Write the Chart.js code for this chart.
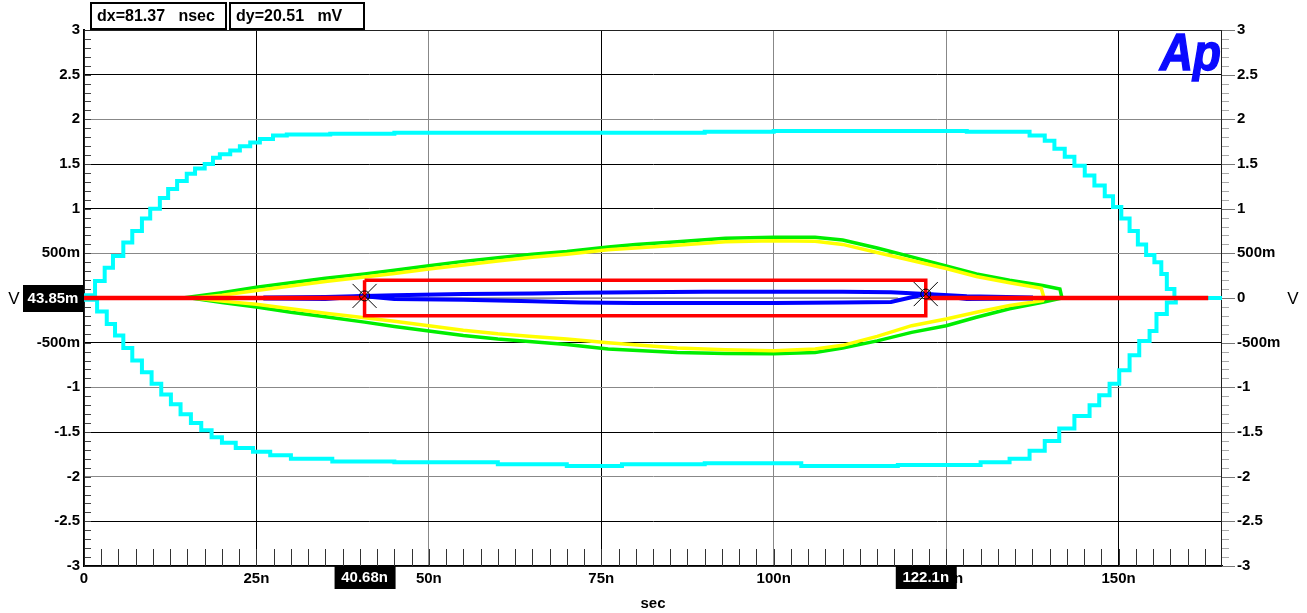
<!DOCTYPE html>
<html>
<head>
<meta charset="utf-8">
<script src="https://cdn.jsdelivr.net/npm/chart.js@4.4.0/dist/chart.umd.min.js"></script>
<style>
  html, body { margin: 0; padding: 0; background: #fff; }
  #wrap { width: 1307px; height: 613px; }
</style>
</head>
<body>
<div id="wrap"><canvas id="scope" width="1307" height="613"></canvas></div>
<script>
// axes: time in ns, level in V
const xTicks = [0, 25, 50, 75, 100, 125, 150];
const xTickLabels = ['0', '25n', '50n', '75n', '100n', '125n', '150n'];
const yTicks = [3, 2.5, 2, 1.5, 1, 0.5, 0, -0.5, -1, -1.5, -2, -2.5, -3];
const yTickLabels = ['3', '2.5', '2', '1.5', '1', '500m', '0', '-500m', '-1', '-1.5', '-2', '-2.5', '-3'];

// traces [ns, V]
const cyanUpper = [[0,0],[1.6,0.03],[3.0,0.19],[4.2,0.34],[5.7,0.47],[7.0,0.62],[8.4,0.75],[9.6,0.89],[11.0,1.00],
  [12.2,1.12],[13.5,1.22],[14.9,1.31],[16.1,1.39],[17.5,1.45],[18.7,1.50],[19.7,1.57],[21.2,1.61],[22.6,1.65],
  [24.1,1.70],[25.5,1.74],[27.4,1.78],[29.4,1.82],[35.7,1.83],[45,1.84],[60,1.85],[75,1.85],[90,1.85],[100,1.86],
  [110,1.87],[120,1.87],[128,1.87],[132.8,1.86],[137.1,1.86],[139.3,1.82],[140.7,1.76],[142.2,1.67],[143.6,1.58],
  [145.1,1.48],[146.5,1.37],[148.0,1.26],[149.2,1.14],[150.4,1.02],[151.6,0.89],[152.8,0.75],[154.0,0.60],
  [155.2,0.48],[156.2,0.40],[157.0,0.27],[158.1,0.10],[159.6,0],[165,0]];
const cyanLower = [[0,0],[1.9,-0.02],[3.3,-0.15],[4.5,-0.29],[5.7,-0.42],[7.0,-0.56],[8.4,-0.70],[9.8,-0.83],
  [11.2,-0.96],[12.6,-1.08],[14.0,-1.19],[15.5,-1.30],[17.0,-1.40],[18.5,-1.48],[20.0,-1.56],[22.0,-1.62],
  [24.5,-1.68],[27.0,-1.72],[30.0,-1.76],[36.0,-1.80],[45,-1.83],[60,-1.84],[70,-1.86],[78,-1.88],[90,-1.86],
  [104,-1.85],[118,-1.88],[130,-1.87],[134.2,-1.84],[137.1,-1.80],[139.3,-1.71],[141.4,-1.60],[143.6,-1.46],
  [145.8,-1.32],[147.2,-1.20],[148.7,-1.09],[150.1,-0.96],[151.6,-0.81],[153.0,-0.64],[154.5,-0.48],
  [155.5,-0.37],[157.0,-0.18],[158.3,-0.05],[159.6,0]];
const greenUpper = [[14.3,0],[20,0.06],[25,0.12],[30,0.17],[35,0.22],[40.68,0.27],[45,0.31],[50,0.36],[55,0.41],
  [60,0.45],[65,0.49],[70,0.52],[76,0.57],[80,0.60],[86,0.63],[93,0.67],[100,0.68],[106,0.68],[110,0.65],
  [115,0.56],[120,0.46],[125,0.36],[129.4,0.27],[134.2,0.20],[139,0.14],[141.5,0.10],[141.8,0]];
const greenLower = [[15.5,0],[20,-0.05],[25,-0.10],[30,-0.16],[35,-0.21],[40.68,-0.27],[45,-0.32],[50,-0.37],
  [55,-0.42],[60,-0.46],[65,-0.49],[70,-0.52],[76,-0.57],[86,-0.61],[93,-0.62],[100,-0.625],[106,-0.61],
  [110,-0.56],[115,-0.48],[120,-0.385],[125,-0.31],[129.4,-0.215],[134.2,-0.12],[139,-0.047],[141.8,0]];
const yellowUpper = [[15.8,0],[20,0.03],[25,0.085],[30,0.135],[35,0.185],[40.68,0.235],[45,0.275],[50,0.325],
  [55,0.37],[60,0.415],[65,0.455],[70,0.49],[76,0.54],[86,0.59],[93,0.63],[100,0.64],[106,0.635],[110,0.60],
  [115,0.51],[120,0.42],[125,0.33],[129.4,0.24],[134.2,0.17],[138.8,0.11],[139.2,0]];
const yellowLower = [[15.8,0],[20,-0.035],[25,-0.07],[30,-0.12],[35,-0.17],[40.68,-0.22],[45,-0.26],[50,-0.31],
  [55,-0.36],[60,-0.40],[65,-0.43],[70,-0.46],[76,-0.50],[86,-0.56],[93,-0.58],[100,-0.59],[106,-0.57],
  [110,-0.53],[115,-0.43],[120,-0.31],[125,-0.235],[129.4,-0.16],[134.2,-0.085],[139,-0.03],[139.2,0]];
const blueUpper = [[26,0.005],[35,0.012],[40.68,0.023],[45,0.03],[55,0.045],[65,0.05],[72,0.06],[80,0.065],
  [90,0.07],[100,0.07],[110,0.07],[117,0.065],[122.05,0.044],[128,0.02],[137.6,0.005]];
const blueLower = [[26,-0.005],[35,-0.01],[40.68,0.02],[45,-0.01],[55,-0.02],[65,-0.035],[72,-0.05],[80,-0.055],
  [90,-0.055],[100,-0.055],[110,-0.05],[117,-0.045],[122.05,0.044],[128,-0.01],[137.6,-0.005]];
const grayTrace = [[45,0],[118,0]];
const redTrace = [[0,0],[40.68,0],[81,null],[122.05,0],[163,0]];

// cursors
const markers = [[40.68, 0.02334], [122.05, 0.04385]];
const cursorBox = [[40.68,0.2],[122.05,0.2],[122.05,-0.2],[40.68,-0.2],[40.68,0.2]];
const readouts = ['dx=81.37   nsec', 'dy=20.51   mV'];
const cursorXLabels = ['40.68n', '122.1n'];
const cursorYLabel = '43.85m';

const xy = arr => arr.map(p => ({x: p[0], y: p[1]}));
const trace = (data, color, width, extra) => Object.assign({
  data: xy(data), borderColor: color, borderWidth: width, pointRadius: 0, fill: false, tension: 0
}, extra || {});

const FONT = '"Liberation Sans", Arial, sans-serif';

const decor = {
  id: 'decor',
  beforeDatasetsDraw(chart) {
    const c = chart.ctx, x = chart.scales.x, y = chart.scales.y, a = chart.chartArea;
    c.save();
    c.lineWidth = 1;
    // left minor ticks
    c.strokeStyle = '#444';
    for (let i = -30; i <= 30; i++) {
      const py = Math.round(y.getPixelForValue(i / 10)) + 0.5;
      c.beginPath(); c.moveTo(a.left, py); c.lineTo(a.left + 7, py); c.stroke();
    }
    // right ticks, outside
    for (let i = -30; i <= 30; i++) {
      const py = Math.round(y.getPixelForValue(i / 10)) + 0.5;
      const major = i % 5 === 0;
      c.strokeStyle = major ? '#777' : '#aaa';
      c.beginPath(); c.moveTo(a.right, py); c.lineTo(a.right + (major ? 13 : 7), py); c.stroke();
    }
    // bottom ticks every 2.5n
    c.strokeStyle = '#333';
    for (let i = 1; i * 2.5 < 165; i++) {
      const px = Math.round(x.getPixelForValue(i * 2.5)) + 0.5;
      c.beginPath(); c.moveTo(px, a.bottom); c.lineTo(px, a.bottom - 17); c.stroke();
    }
    // frame
    c.strokeStyle = '#222';
    c.strokeRect(a.left + 0.5, a.top + 0.5, a.right - a.left - 1, a.bottom - a.top);
    c.restore();
  },
  afterDraw(chart) {
    const c = chart.ctx, x = chart.scales.x, y = chart.scales.y, a = chart.chartArea;
    c.save();
    // readout boxes
    c.font = 'bold 16px ' + FONT;
    c.textBaseline = 'middle';
    const boxes = [[91, 135], [230, 134]];
    boxes.forEach((b, i) => {
      c.fillStyle = '#fff'; c.fillRect(b[0], 3, b[1], 26);
      c.strokeStyle = '#000'; c.lineWidth = 2; c.strokeRect(b[0], 3, b[1], 26);
      c.fillStyle = '#000'; c.textAlign = 'left';
      c.fillText(readouts[i], b[0] + 6, 17);
    });
    // cursor labels on x axis
    c.font = 'bold 15px ' + FONT;
    c.textAlign = 'center';
    markers.forEach((m, i) => {
      const px = x.getPixelForValue(m[0]);
      c.fillStyle = '#000'; c.fillRect(px - 30, a.bottom, 61, 23);
      c.fillStyle = '#fff'; c.fillText(cursorXLabels[i], px, a.bottom + 12);
    });
    // cursor label on y axis
    const py = y.getPixelForValue(0);
    c.fillStyle = '#000'; c.fillRect(23, py - 13, 61, 27);
    c.fillStyle = '#fff'; c.fillText(cursorYLabel, 53, py + 1);
    // unit labels
    c.fillStyle = '#000';
    c.font = '17px ' + FONT;
    c.fillText('V', 14, py + 1);
    c.fillText('V', 1293, py + 1);
    // logo
    c.translate(1160, 70);
    c.scale(0.88, 1);
    c.font = 'italic bold 52px ' + FONT;
    c.fillStyle = '#0a0aff';
    c.strokeStyle = '#0a0aff';
    c.lineWidth = 1.5;
    c.textAlign = 'left';
    c.textBaseline = 'alphabetic';
    c.fillText('Ap', 0, 0);
    c.strokeText('Ap', 0, 0);
    c.restore();
  }
};

const tickFont = { family: FONT, size: 15, weight: 'bold' };

new Chart(document.getElementById('scope').getContext('2d'), {
  type: 'line',
  data: {
    datasets: [
      { data: xy(markers), showLine: false, pointStyle: 'crossRot', pointRadius: 17, pointBorderWidth: 1,
        pointBorderColor: '#000', pointBackgroundColor: 'rgba(0,0,0,0)' },
      { data: xy(markers), showLine: false, pointStyle: 'circle', pointRadius: 5, pointBorderWidth: 1,
        pointBorderColor: '#000', pointBackgroundColor: 'rgba(0,0,0,0)' },
      trace(cursorBox, '#ff0000', 3.5),
      trace(redTrace, '#ff0000', 4.5, { spanGaps: false }),
      trace(blueUpper, '#0000ff', 4),
      trace(blueLower, '#0000ff', 4),
      trace(grayTrace, '#999999', 1.5),
      trace(yellowUpper, '#ffff00', 3.5),
      trace(yellowLower, '#ffff00', 3.5),
      trace(greenUpper, '#00ee00', 3.5),
      trace(greenLower, '#00ee00', 3.5),
      trace(cyanUpper, '#00ffff', 4, { stepped: 'after' }),
      trace(cyanLower, '#00ffff', 4, { stepped: 'after' })
    ]
  },
  options: {
    responsive: false,
    animation: false,
    layout: { padding: { top: 30 } },
    plugins: { legend: { display: false }, tooltip: { enabled: false } },
    scales: {
      x: {
        type: 'linear', min: 0, max: 165,
        afterBuildTicks: s => { s.ticks = xTicks.map(v => ({ value: v })); },
        afterFit: s => { s.height = 47; },
        ticks: { callback: v => xTickLabels[xTicks.indexOf(v)], color: '#000', font: tickFont, padding: 4,
          maxRotation: 0, autoSkip: false },
        grid: { color: ['#000', '#000', '#888', '#000', '#888', '#888', '#000'], drawTicks: false },
        border: { color: '#000', width: 2 },
        title: { display: true, text: 'sec', color: '#000', font: { family: FONT, size: 15, weight: 'bold' },
          padding: { top: 0, bottom: 0 } }
      },
      y: {
        position: 'left', min: -3, max: 3,
        afterBuildTicks: s => { s.ticks = yTicks.map(v => ({ value: v })); },
        afterFit: s => { s.width = 84; },
        ticks: { callback: v => yTickLabels[yTicks.indexOf(v)], color: '#000', font: tickFont, padding: 4 },
        grid: { color: ['#444', '#000', '#888', '#000', '#000', '#888', '#888', '#000', '#888', '#000', '#888', '#000', '#000'],
          drawTicks: false },
        border: { color: '#000', width: 2 }
      },
      y2: {
        position: 'right', min: -3, max: 3,
        afterBuildTicks: s => { s.ticks = yTicks.map(v => ({ value: v })); },
        afterFit: s => { s.width = 85; },
        ticks: { callback: v => yTickLabels[yTicks.indexOf(v)], color: '#000', font: tickFont, padding: 15 },
        grid: { display: false, drawTicks: false },
        border: { display: false }
      }
    }
  },
  plugins: [decor]
});
</script>
</body>
</html>
